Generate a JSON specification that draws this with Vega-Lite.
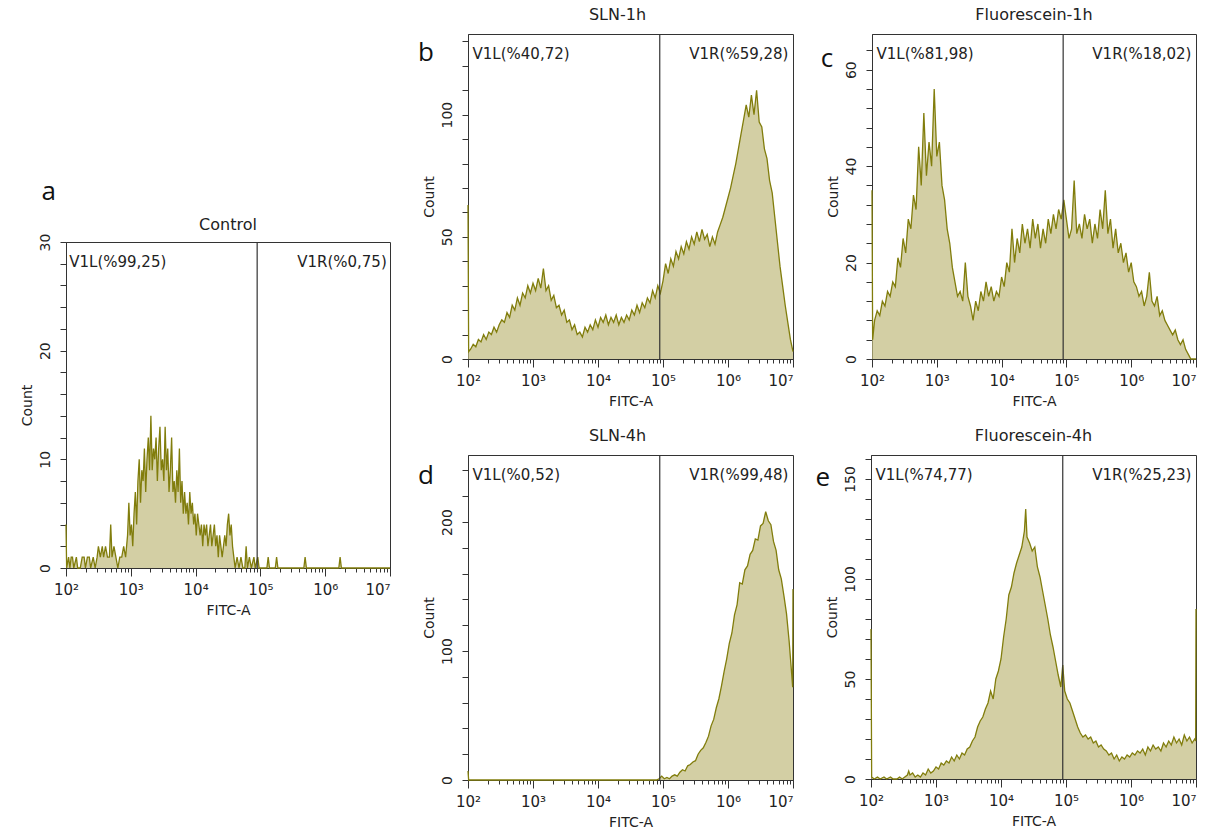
{
  "$schema": "https://vega.github.io/schema/vega-lite/v6.json",
  "padding": {"left": 19, "top": 6, "right": 0, "bottom": 0},
  "background": "white",
  "datasets": {
    "a": [{"fitc":2.00,"count":4},{"fitc":2.01,"count":0},{"fitc":2.04,"count":1},{"fitc":2.06,"count":0},{"fitc":2.08,"count":1},{"fitc":2.10,"count":1},{"fitc":2.12,"count":0},{"fitc":2.16,"count":1},{"fitc":2.18,"count":0},{"fitc":2.22,"count":0},{"fitc":2.25,"count":1},{"fitc":2.28,"count":1},{"fitc":2.30,"count":0},{"fitc":2.33,"count":1},{"fitc":2.36,"count":1},{"fitc":2.38,"count":0},{"fitc":2.42,"count":1},{"fitc":2.45,"count":0},{"fitc":2.48,"count":1},{"fitc":2.50,"count":2},{"fitc":2.53,"count":1},{"fitc":2.56,"count":2},{"fitc":2.58,"count":1},{"fitc":2.61,"count":2},{"fitc":2.64,"count":1},{"fitc":2.67,"count":1},{"fitc":2.69,"count":4},{"fitc":2.71,"count":1},{"fitc":2.74,"count":2},{"fitc":2.77,"count":1},{"fitc":2.80,"count":0},{"fitc":2.83,"count":1},{"fitc":2.86,"count":1},{"fitc":2.89,"count":2},{"fitc":2.92,"count":1},{"fitc":2.95,"count":3},{"fitc":2.97,"count":6},{"fitc":2.99,"count":3},{"fitc":3.01,"count":4},{"fitc":3.03,"count":2},{"fitc":3.05,"count":5},{"fitc":3.07,"count":7},{"fitc":3.09,"count":4},{"fitc":3.11,"count":8},{"fitc":3.13,"count":10},{"fitc":3.15,"count":6},{"fitc":3.17,"count":9},{"fitc":3.19,"count":8},{"fitc":3.21,"count":11},{"fitc":3.23,"count":7},{"fitc":3.25,"count":10},{"fitc":3.27,"count":12},{"fitc":3.29,"count":9},{"fitc":3.31,"count":14},{"fitc":3.33,"count":9},{"fitc":3.35,"count":11},{"fitc":3.37,"count":10},{"fitc":3.39,"count":12},{"fitc":3.41,"count":8},{"fitc":3.43,"count":11},{"fitc":3.45,"count":13},{"fitc":3.47,"count":9},{"fitc":3.49,"count":10},{"fitc":3.51,"count":8},{"fitc":3.53,"count":13},{"fitc":3.55,"count":9},{"fitc":3.57,"count":11},{"fitc":3.59,"count":7},{"fitc":3.61,"count":9},{"fitc":3.63,"count":12},{"fitc":3.65,"count":7},{"fitc":3.67,"count":8},{"fitc":3.69,"count":6},{"fitc":3.71,"count":9},{"fitc":3.73,"count":7},{"fitc":3.75,"count":11},{"fitc":3.77,"count":6},{"fitc":3.79,"count":8},{"fitc":3.81,"count":5},{"fitc":3.83,"count":7},{"fitc":3.85,"count":5},{"fitc":3.87,"count":6},{"fitc":3.89,"count":4},{"fitc":3.91,"count":7},{"fitc":3.93,"count":5},{"fitc":3.95,"count":6},{"fitc":3.97,"count":4},{"fitc":3.99,"count":5},{"fitc":4.01,"count":3},{"fitc":4.03,"count":5},{"fitc":4.05,"count":4},{"fitc":4.07,"count":3},{"fitc":4.09,"count":4},{"fitc":4.11,"count":2},{"fitc":4.13,"count":4},{"fitc":4.15,"count":3},{"fitc":4.17,"count":4},{"fitc":4.19,"count":2},{"fitc":4.21,"count":3},{"fitc":4.23,"count":4},{"fitc":4.25,"count":2},{"fitc":4.27,"count":3},{"fitc":4.29,"count":4},{"fitc":4.31,"count":2},{"fitc":4.33,"count":3},{"fitc":4.35,"count":1},{"fitc":4.37,"count":3},{"fitc":4.39,"count":2},{"fitc":4.41,"count":1},{"fitc":4.43,"count":2},{"fitc":4.45,"count":3},{"fitc":4.47,"count":2},{"fitc":4.49,"count":4},{"fitc":4.51,"count":5},{"fitc":4.53,"count":3},{"fitc":4.55,"count":4},{"fitc":4.57,"count":2},{"fitc":4.59,"count":1},{"fitc":4.61,"count":0},{"fitc":4.64,"count":1},{"fitc":4.67,"count":0},{"fitc":4.70,"count":1},{"fitc":4.73,"count":0},{"fitc":4.76,"count":0},{"fitc":4.78,"count":2},{"fitc":4.80,"count":0},{"fitc":4.83,"count":1},{"fitc":4.86,"count":0},{"fitc":4.90,"count":1},{"fitc":4.92,"count":0},{"fitc":4.96,"count":1},{"fitc":4.98,"count":0},{"fitc":5.10,"count":0},{"fitc":5.12,"count":1},{"fitc":5.14,"count":0},{"fitc":5.23,"count":0},{"fitc":5.25,"count":1},{"fitc":5.27,"count":0},{"fitc":5.67,"count":0},{"fitc":5.69,"count":1},{"fitc":5.71,"count":0},{"fitc":6.21,"count":0},{"fitc":6.23,"count":1},{"fitc":6.25,"count":0},{"fitc":7.00,"count":0}],
    "b": [{"fitc":2.00,"count":63},{"fitc":2.01,"count":3},{"fitc":2.04,"count":4},{"fitc":2.08,"count":6},{"fitc":2.12,"count":5},{"fitc":2.16,"count":8},{"fitc":2.20,"count":7},{"fitc":2.24,"count":10},{"fitc":2.28,"count":8},{"fitc":2.32,"count":11},{"fitc":2.36,"count":10},{"fitc":2.40,"count":13},{"fitc":2.44,"count":11},{"fitc":2.48,"count":14},{"fitc":2.52,"count":16},{"fitc":2.56,"count":15},{"fitc":2.60,"count":19},{"fitc":2.64,"count":17},{"fitc":2.68,"count":22},{"fitc":2.72,"count":20},{"fitc":2.76,"count":25},{"fitc":2.80,"count":22},{"fitc":2.84,"count":27},{"fitc":2.88,"count":25},{"fitc":2.92,"count":30},{"fitc":2.96,"count":27},{"fitc":3.00,"count":31},{"fitc":3.04,"count":28},{"fitc":3.08,"count":33},{"fitc":3.12,"count":29},{"fitc":3.16,"count":37},{"fitc":3.20,"count":28},{"fitc":3.24,"count":30},{"fitc":3.28,"count":24},{"fitc":3.32,"count":26},{"fitc":3.36,"count":21},{"fitc":3.40,"count":22},{"fitc":3.44,"count":18},{"fitc":3.48,"count":20},{"fitc":3.52,"count":15},{"fitc":3.56,"count":16},{"fitc":3.60,"count":12},{"fitc":3.64,"count":14},{"fitc":3.68,"count":10},{"fitc":3.72,"count":11},{"fitc":3.76,"count":9},{"fitc":3.80,"count":13},{"fitc":3.84,"count":11},{"fitc":3.88,"count":14},{"fitc":3.92,"count":12},{"fitc":3.96,"count":16},{"fitc":4.00,"count":13},{"fitc":4.04,"count":17},{"fitc":4.08,"count":15},{"fitc":4.12,"count":18},{"fitc":4.16,"count":14},{"fitc":4.20,"count":17},{"fitc":4.24,"count":15},{"fitc":4.28,"count":18},{"fitc":4.32,"count":14},{"fitc":4.36,"count":17},{"fitc":4.40,"count":15},{"fitc":4.44,"count":18},{"fitc":4.48,"count":16},{"fitc":4.52,"count":20},{"fitc":4.56,"count":18},{"fitc":4.60,"count":22},{"fitc":4.64,"count":19},{"fitc":4.68,"count":23},{"fitc":4.72,"count":21},{"fitc":4.76,"count":25},{"fitc":4.80,"count":23},{"fitc":4.84,"count":28},{"fitc":4.88,"count":25},{"fitc":4.92,"count":30},{"fitc":4.96,"count":27},{"fitc":5.00,"count":32},{"fitc":5.04,"count":39},{"fitc":5.08,"count":35},{"fitc":5.12,"count":41},{"fitc":5.16,"count":38},{"fitc":5.20,"count":44},{"fitc":5.24,"count":41},{"fitc":5.28,"count":46},{"fitc":5.32,"count":43},{"fitc":5.36,"count":48},{"fitc":5.40,"count":45},{"fitc":5.44,"count":50},{"fitc":5.48,"count":47},{"fitc":5.52,"count":52},{"fitc":5.56,"count":48},{"fitc":5.60,"count":53},{"fitc":5.64,"count":49},{"fitc":5.68,"count":51},{"fitc":5.72,"count":46},{"fitc":5.76,"count":50},{"fitc":5.80,"count":47},{"fitc":5.84,"count":52},{"fitc":5.88,"count":55},{"fitc":5.92,"count":58},{"fitc":5.96,"count":62},{"fitc":6.00,"count":66},{"fitc":6.04,"count":70},{"fitc":6.08,"count":75},{"fitc":6.12,"count":80},{"fitc":6.16,"count":86},{"fitc":6.20,"count":92},{"fitc":6.24,"count":98},{"fitc":6.28,"count":104},{"fitc":6.32,"count":99},{"fitc":6.36,"count":108},{"fitc":6.40,"count":100},{"fitc":6.44,"count":110},{"fitc":6.48,"count":97},{"fitc":6.52,"count":95},{"fitc":6.56,"count":86},{"fitc":6.60,"count":82},{"fitc":6.64,"count":73},{"fitc":6.68,"count":68},{"fitc":6.72,"count":58},{"fitc":6.76,"count":48},{"fitc":6.80,"count":38},{"fitc":6.84,"count":30},{"fitc":6.88,"count":22},{"fitc":6.92,"count":15},{"fitc":6.96,"count":8},{"fitc":7.00,"count":3}],
    "c": [{"fitc":2.00,"count":35},{"fitc":2.01,"count":4},{"fitc":2.04,"count":8},{"fitc":2.08,"count":10},{"fitc":2.12,"count":9},{"fitc":2.16,"count":12},{"fitc":2.20,"count":11},{"fitc":2.24,"count":14},{"fitc":2.28,"count":13},{"fitc":2.32,"count":16},{"fitc":2.36,"count":15},{"fitc":2.40,"count":21},{"fitc":2.44,"count":19},{"fitc":2.48,"count":25},{"fitc":2.52,"count":22},{"fitc":2.56,"count":29},{"fitc":2.60,"count":27},{"fitc":2.64,"count":34},{"fitc":2.68,"count":31},{"fitc":2.72,"count":44},{"fitc":2.76,"count":36},{"fitc":2.80,"count":51},{"fitc":2.84,"count":38},{"fitc":2.88,"count":45},{"fitc":2.92,"count":40},{"fitc":2.96,"count":56},{"fitc":3.00,"count":42},{"fitc":3.04,"count":45},{"fitc":3.08,"count":36},{"fitc":3.12,"count":33},{"fitc":3.16,"count":27},{"fitc":3.20,"count":24},{"fitc":3.24,"count":19},{"fitc":3.28,"count":16},{"fitc":3.32,"count":13},{"fitc":3.36,"count":14},{"fitc":3.40,"count":12},{"fitc":3.44,"count":20},{"fitc":3.48,"count":13},{"fitc":3.52,"count":11},{"fitc":3.56,"count":8},{"fitc":3.60,"count":12},{"fitc":3.64,"count":10},{"fitc":3.68,"count":14},{"fitc":3.72,"count":12},{"fitc":3.76,"count":16},{"fitc":3.80,"count":13},{"fitc":3.84,"count":15},{"fitc":3.88,"count":12},{"fitc":3.92,"count":14},{"fitc":3.96,"count":13},{"fitc":4.00,"count":17},{"fitc":4.04,"count":15},{"fitc":4.08,"count":20},{"fitc":4.12,"count":18},{"fitc":4.16,"count":27},{"fitc":4.20,"count":20},{"fitc":4.24,"count":25},{"fitc":4.28,"count":22},{"fitc":4.32,"count":28},{"fitc":4.36,"count":24},{"fitc":4.40,"count":27},{"fitc":4.44,"count":23},{"fitc":4.48,"count":29},{"fitc":4.52,"count":25},{"fitc":4.56,"count":28},{"fitc":4.60,"count":23},{"fitc":4.64,"count":27},{"fitc":4.68,"count":24},{"fitc":4.72,"count":29},{"fitc":4.76,"count":26},{"fitc":4.80,"count":30},{"fitc":4.84,"count":27},{"fitc":4.88,"count":31},{"fitc":4.92,"count":29},{"fitc":4.96,"count":33},{"fitc":5.00,"count":29},{"fitc":5.04,"count":25},{"fitc":5.08,"count":27},{"fitc":5.12,"count":37},{"fitc":5.16,"count":26},{"fitc":5.20,"count":28},{"fitc":5.24,"count":25},{"fitc":5.28,"count":30},{"fitc":5.32,"count":27},{"fitc":5.36,"count":29},{"fitc":5.40,"count":24},{"fitc":5.44,"count":28},{"fitc":5.48,"count":25},{"fitc":5.52,"count":31},{"fitc":5.56,"count":27},{"fitc":5.60,"count":35},{"fitc":5.64,"count":26},{"fitc":5.68,"count":29},{"fitc":5.72,"count":23},{"fitc":5.76,"count":27},{"fitc":5.80,"count":22},{"fitc":5.84,"count":24},{"fitc":5.88,"count":20},{"fitc":5.92,"count":22},{"fitc":5.96,"count":18},{"fitc":6.00,"count":20},{"fitc":6.04,"count":16},{"fitc":6.08,"count":15},{"fitc":6.12,"count":13},{"fitc":6.16,"count":14},{"fitc":6.20,"count":11},{"fitc":6.24,"count":13},{"fitc":6.28,"count":18},{"fitc":6.32,"count":12},{"fitc":6.36,"count":11},{"fitc":6.40,"count":13},{"fitc":6.44,"count":9},{"fitc":6.48,"count":10},{"fitc":6.52,"count":8},{"fitc":6.56,"count":7},{"fitc":6.60,"count":6},{"fitc":6.64,"count":5},{"fitc":6.68,"count":6},{"fitc":6.72,"count":4},{"fitc":6.76,"count":3},{"fitc":6.80,"count":4},{"fitc":6.84,"count":2},{"fitc":6.88,"count":1},{"fitc":6.92,"count":0},{"fitc":7.00,"count":0}],
    "d": [{"fitc":2.00,"count":7},{"fitc":2.01,"count":0},{"fitc":4.90,"count":0},{"fitc":4.94,"count":1},{"fitc":4.98,"count":3},{"fitc":5.02,"count":1},{"fitc":5.06,"count":2},{"fitc":5.10,"count":1},{"fitc":5.14,"count":3},{"fitc":5.18,"count":4},{"fitc":5.22,"count":3},{"fitc":5.26,"count":6},{"fitc":5.30,"count":8},{"fitc":5.34,"count":7},{"fitc":5.38,"count":11},{"fitc":5.42,"count":12},{"fitc":5.46,"count":14},{"fitc":5.50,"count":15},{"fitc":5.54,"count":20},{"fitc":5.58,"count":23},{"fitc":5.62,"count":25},{"fitc":5.66,"count":29},{"fitc":5.70,"count":34},{"fitc":5.74,"count":42},{"fitc":5.78,"count":47},{"fitc":5.82,"count":56},{"fitc":5.86,"count":63},{"fitc":5.90,"count":73},{"fitc":5.94,"count":84},{"fitc":5.98,"count":94},{"fitc":6.02,"count":106},{"fitc":6.06,"count":114},{"fitc":6.10,"count":128},{"fitc":6.14,"count":136},{"fitc":6.18,"count":153},{"fitc":6.22,"count":152},{"fitc":6.26,"count":163},{"fitc":6.30,"count":166},{"fitc":6.34,"count":175},{"fitc":6.38,"count":178},{"fitc":6.42,"count":187},{"fitc":6.46,"count":186},{"fitc":6.50,"count":197},{"fitc":6.54,"count":199},{"fitc":6.58,"count":208},{"fitc":6.62,"count":201},{"fitc":6.66,"count":198},{"fitc":6.70,"count":185},{"fitc":6.74,"count":178},{"fitc":6.78,"count":163},{"fitc":6.82,"count":156},{"fitc":6.86,"count":143},{"fitc":6.90,"count":129},{"fitc":6.94,"count":108},{"fitc":6.98,"count":82},{"fitc":6.995,"count":72},{"fitc":7.00,"count":148}],
    "e": [{"fitc":2.00,"count":75},{"fitc":2.01,"count":1},{"fitc":2.05,"count":0},{"fitc":2.10,"count":1},{"fitc":2.14,"count":0},{"fitc":2.20,"count":1},{"fitc":2.24,"count":0},{"fitc":2.30,"count":1},{"fitc":2.34,"count":0},{"fitc":2.40,"count":0},{"fitc":2.44,"count":1},{"fitc":2.48,"count":0},{"fitc":2.52,"count":1},{"fitc":2.56,"count":2},{"fitc":2.58,"count":4},{"fitc":2.60,"count":2},{"fitc":2.64,"count":3},{"fitc":2.68,"count":1},{"fitc":2.72,"count":2},{"fitc":2.76,"count":1},{"fitc":2.80,"count":3},{"fitc":2.84,"count":2},{"fitc":2.88,"count":5},{"fitc":2.92,"count":3},{"fitc":2.96,"count":4},{"fitc":3.00,"count":6},{"fitc":3.04,"count":5},{"fitc":3.08,"count":8},{"fitc":3.12,"count":7},{"fitc":3.16,"count":9},{"fitc":3.20,"count":8},{"fitc":3.24,"count":11},{"fitc":3.28,"count":9},{"fitc":3.32,"count":12},{"fitc":3.36,"count":10},{"fitc":3.40,"count":13},{"fitc":3.44,"count":12},{"fitc":3.48,"count":15},{"fitc":3.52,"count":16},{"fitc":3.56,"count":19},{"fitc":3.60,"count":21},{"fitc":3.64,"count":26},{"fitc":3.68,"count":29},{"fitc":3.72,"count":31},{"fitc":3.76,"count":35},{"fitc":3.80,"count":38},{"fitc":3.84,"count":44},{"fitc":3.88,"count":40},{"fitc":3.92,"count":50},{"fitc":3.96,"count":54},{"fitc":4.00,"count":60},{"fitc":4.04,"count":71},{"fitc":4.08,"count":80},{"fitc":4.12,"count":92},{"fitc":4.16,"count":96},{"fitc":4.20,"count":103},{"fitc":4.24,"count":108},{"fitc":4.28,"count":112},{"fitc":4.32,"count":116},{"fitc":4.36,"count":124},{"fitc":4.38,"count":135},{"fitc":4.40,"count":121},{"fitc":4.44,"count":118},{"fitc":4.48,"count":114},{"fitc":4.52,"count":116},{"fitc":4.56,"count":106},{"fitc":4.60,"count":101},{"fitc":4.64,"count":94},{"fitc":4.68,"count":87},{"fitc":4.72,"count":80},{"fitc":4.76,"count":72},{"fitc":4.80,"count":66},{"fitc":4.84,"count":59},{"fitc":4.88,"count":52},{"fitc":4.92,"count":46},{"fitc":4.95,"count":57},{"fitc":4.98,"count":44},{"fitc":5.02,"count":40},{"fitc":5.06,"count":38},{"fitc":5.10,"count":34},{"fitc":5.14,"count":30},{"fitc":5.18,"count":26},{"fitc":5.22,"count":23},{"fitc":5.26,"count":21},{"fitc":5.30,"count":22},{"fitc":5.34,"count":20},{"fitc":5.38,"count":21},{"fitc":5.42,"count":18},{"fitc":5.46,"count":19},{"fitc":5.50,"count":16},{"fitc":5.54,"count":17},{"fitc":5.58,"count":15},{"fitc":5.62,"count":14},{"fitc":5.66,"count":12},{"fitc":5.70,"count":13},{"fitc":5.74,"count":10},{"fitc":5.78,"count":12},{"fitc":5.82,"count":9},{"fitc":5.86,"count":11},{"fitc":5.90,"count":10},{"fitc":5.94,"count":12},{"fitc":5.98,"count":11},{"fitc":6.02,"count":13},{"fitc":6.06,"count":12},{"fitc":6.10,"count":14},{"fitc":6.14,"count":13},{"fitc":6.18,"count":15},{"fitc":6.22,"count":12},{"fitc":6.26,"count":16},{"fitc":6.30,"count":14},{"fitc":6.34,"count":17},{"fitc":6.38,"count":15},{"fitc":6.42,"count":16},{"fitc":6.46,"count":14},{"fitc":6.50,"count":18},{"fitc":6.54,"count":16},{"fitc":6.58,"count":19},{"fitc":6.62,"count":17},{"fitc":6.66,"count":21},{"fitc":6.70,"count":18},{"fitc":6.74,"count":20},{"fitc":6.78,"count":17},{"fitc":6.82,"count":22},{"fitc":6.86,"count":19},{"fitc":6.90,"count":21},{"fitc":6.94,"count":18},{"fitc":6.98,"count":20},{"fitc":6.995,"count":19},{"fitc":7.00,"count":85}]
  },
  "spacing": 23,
  "hconcat": [
    {
      "spacing": 0,
      "vconcat": [
        {"width": 10, "height": 144, "data": {"values": [{}]}, "mark": {"type": "point", "opacity": 0}, "view": {"stroke": null}},
        {
          "width": 324, "height": 326,
          "title": {"text": "Control", "dy": 64},
          "resolve": {"axis": {"x": "independent", "y": "independent"}},
          "layer": [
            {"data": {"name": "a"}, "mark": {"type": "area", "color": "#C0BB7E", "line": {"color": "#817D0C", "strokeWidth": 1.3}},
             "encoding": {
               "x": {"field": "fitc", "type": "quantitative", "scale": {"domain": [2, 7], "nice": false, "zero": false},
                     "axis": {"title": "FITC-A", "values": [2,2.30103,2.47712,2.60206,2.69897,2.77815,2.8451,2.90309,2.95424,3,3.30103,3.47712,3.60206,3.69897,3.77815,3.8451,3.90309,3.95424,4,4.30103,4.47712,4.60206,4.69897,4.77815,4.8451,4.90309,4.95424,5,5.30103,5.47712,5.60206,5.69897,5.77815,5.8451,5.90309,5.95424,6,6.30103,6.47712,6.60206,6.69897,6.77815,6.8451,6.90309,6.95424,7],
                              "labelAlign": {"condition": {"test": "datum.value == 7", "value": "right"}, "value": "center"},
                              "labelExpr": "datum.value == 2 ? '10²' : datum.value == 3 ? '10³' : datum.value == 4 ? '10⁴' : datum.value == 5 ? '10⁵' : datum.value == 6 ? '10⁶' : datum.value == 7 ? '10⁷' : ''"}},
               "y": {"field": "count", "type": "quantitative", "scale": {"domain": [0, 30], "nice": false},
                     "axis": {"title": "Count", "values": [0,2,4,6,8,10,12,14,16,18,20,22,24,26,28,30], "labelExpr": "datum.value % 10 == 0 ? datum.label : ''"}}
             }},
            {"data": {"values": [{"gate": "V1"}]}, "mark": {"type": "rule", "color": "#333", "strokeWidth": 1.2}, "encoding": {"x": {"datum": 4.95, "axis": {"orient": "bottom", "values": [2,3,4,5,6,7], "tickSize": 8, "labels": false, "domain": false, "title": null}}}},
            {"data": {"values": [{"label": "V1L(%99,25)"}]}, "mark": {"type": "text", "align": "left", "baseline": "middle", "fontSize": 15, "color": "#222"}, "encoding": {"x": {"datum": 2.05, "axis": null}, "y": {"datum": 28.2, "axis": null}, "text": {"field": "label"}}},
            {"data": {"values": [{"label": "V1R(%0,75)"}]}, "mark": {"type": "text", "align": "right", "baseline": "middle", "fontSize": 15, "color": "#222"}, "encoding": {"x": {"datum": 6.95, "axis": null}, "y": {"datum": 28.2, "axis": null}, "text": {"field": "label"}}},
            {"data": {"values": [{"panel": "a"}]}, "mark": {"type": "text", "align": "center", "baseline": "alphabetic", "fontSize": 26, "font": "Open Sans", "color": "#111"}, "encoding": {"x": {"datum": 1.735, "axis": null}, "y": {"datum": 33.85, "axis": null}, "text": {"field": "panel"}}}
          ]
        }
      ]
    },
    {
      "spacing": 18,
      "vconcat": [
        {
          "spacing": 23,
          "hconcat": [
            {
              "width": 325, "height": 325,
              "title": {"text": "SLN-1h", "dx": -13},
              "resolve": {"axis": {"x": "independent", "y": "independent"}},
              "layer": [
                {"data": {"name": "b"}, "mark": {"type": "area", "color": "#C0BB7E", "line": {"color": "#817D0C", "strokeWidth": 1.3}},
                 "encoding": {
                   "x": {"field": "fitc", "type": "quantitative", "scale": {"domain": [2, 7], "nice": false, "zero": false},
                         "axis": {"title": "FITC-A", "values": [2,2.30103,2.47712,2.60206,2.69897,2.77815,2.8451,2.90309,2.95424,3,3.30103,3.47712,3.60206,3.69897,3.77815,3.8451,3.90309,3.95424,4,4.30103,4.47712,4.60206,4.69897,4.77815,4.8451,4.90309,4.95424,5,5.30103,5.47712,5.60206,5.69897,5.77815,5.8451,5.90309,5.95424,6,6.30103,6.47712,6.60206,6.69897,6.77815,6.8451,6.90309,6.95424,7],
                                  "labelAlign": {"condition": {"test": "datum.value == 7", "value": "right"}, "value": "center"},
                                  "labelExpr": "datum.value == 2 ? '10²' : datum.value == 3 ? '10³' : datum.value == 4 ? '10⁴' : datum.value == 5 ? '10⁵' : datum.value == 6 ? '10⁶' : datum.value == 7 ? '10⁷' : ''"}},
                   "y": {"field": "count", "type": "quantitative", "scale": {"domain": [0, 133], "nice": false},
                         "axis": {"title": "Count", "values": [0,10,20,30,40,50,60,70,80,90,100,110,120,130], "labelExpr": "datum.value % 50 == 0 ? datum.label : ''"}}
                 }},
                {"data": {"values": [{"gate": "V1"}]}, "mark": {"type": "rule", "color": "#333", "strokeWidth": 1.2}, "encoding": {"x": {"datum": 4.95, "axis": {"orient": "bottom", "values": [2,3,4,5,6,7], "tickSize": 8, "labels": false, "domain": false, "title": null}}}},
                {"data": {"values": [{"label": "V1L(%40,72)"}]}, "mark": {"type": "text", "align": "left", "baseline": "middle", "fontSize": 15, "color": "#222"}, "encoding": {"x": {"datum": 2.07, "axis": null}, "y": {"datum": 124.8, "axis": null}, "text": {"field": "label"}}},
                {"data": {"values": [{"label": "V1R(%59,28)"}]}, "mark": {"type": "text", "align": "right", "baseline": "middle", "fontSize": 15, "color": "#222"}, "encoding": {"x": {"datum": 6.93, "axis": null}, "y": {"datum": 124.8, "axis": null}, "text": {"field": "label"}}},
                {"data": {"values": [{"panel": "b"}]}, "mark": {"type": "text", "align": "center", "baseline": "alphabetic", "fontSize": 26, "font": "Open Sans", "color": "#111"}, "encoding": {"x": {"datum": 1.354, "axis": null}, "y": {"datum": 122.1, "axis": null}, "text": {"field": "panel"}}}
              ]
            },
            {
              "width": 324, "height": 325,
              "title": {"text": "Fluorescein-1h"},
              "resolve": {"axis": {"x": "independent", "y": "independent"}},
              "layer": [
                {"data": {"name": "c"}, "mark": {"type": "area", "color": "#C0BB7E", "line": {"color": "#817D0C", "strokeWidth": 1.3}},
                 "encoding": {
                   "x": {"field": "fitc", "type": "quantitative", "scale": {"domain": [2, 7], "nice": false, "zero": false},
                         "axis": {"title": "FITC-A", "values": [2,2.30103,2.47712,2.60206,2.69897,2.77815,2.8451,2.90309,2.95424,3,3.30103,3.47712,3.60206,3.69897,3.77815,3.8451,3.90309,3.95424,4,4.30103,4.47712,4.60206,4.69897,4.77815,4.8451,4.90309,4.95424,5,5.30103,5.47712,5.60206,5.69897,5.77815,5.8451,5.90309,5.95424,6,6.30103,6.47712,6.60206,6.69897,6.77815,6.8451,6.90309,6.95424,7],
                                  "labelAlign": {"condition": {"test": "datum.value == 7", "value": "right"}, "value": "center"},
                                  "labelExpr": "datum.value == 2 ? '10²' : datum.value == 3 ? '10³' : datum.value == 4 ? '10⁴' : datum.value == 5 ? '10⁵' : datum.value == 6 ? '10⁶' : datum.value == 7 ? '10⁷' : ''"}},
                   "y": {"field": "count", "type": "quantitative", "scale": {"domain": [0, 67.4], "nice": false},
                         "axis": {"title": "Count", "values": [0,4,8,12,16,20,24,28,32,36,40,44,48,52,56,60,64], "labelExpr": "datum.value % 20 == 0 ? datum.label : ''"}}
                 }},
                {"data": {"values": [{"gate": "V1"}]}, "mark": {"type": "rule", "color": "#333", "strokeWidth": 1.2}, "encoding": {"x": {"datum": 4.95, "axis": {"orient": "bottom", "values": [2,3,4,5,6,7], "tickSize": 8, "labels": false, "domain": false, "title": null}}}},
                {"data": {"values": [{"label": "V1L(%81,98)"}]}, "mark": {"type": "text", "align": "left", "baseline": "middle", "fontSize": 15, "color": "#222"}, "encoding": {"x": {"datum": 2.07, "axis": null}, "y": {"datum": 63.25, "axis": null}, "text": {"field": "label"}}},
                {"data": {"values": [{"label": "V1R(%18,02)"}]}, "mark": {"type": "text", "align": "right", "baseline": "middle", "fontSize": 15, "color": "#222"}, "encoding": {"x": {"datum": 6.93, "axis": null}, "y": {"datum": 63.25, "axis": null}, "text": {"field": "label"}}},
                {"data": {"values": [{"panel": "c"}]}, "mark": {"type": "text", "align": "center", "baseline": "alphabetic", "fontSize": 26, "font": "Open Sans", "color": "#111"}, "encoding": {"x": {"datum": 1.306, "axis": null}, "y": {"datum": 60.5, "axis": null}, "text": {"field": "panel"}}}
              ]
            }
          ]
        },
        {
          "spacing": 18,
          "hconcat": [
            {
              "width": 325, "height": 325,
              "title": {"text": "SLN-4h", "dx": -13},
              "resolve": {"axis": {"x": "independent", "y": "independent"}},
              "layer": [
                {"data": {"name": "d"}, "mark": {"type": "area", "color": "#C0BB7E", "line": {"color": "#817D0C", "strokeWidth": 1.3}},
                 "encoding": {
                   "x": {"field": "fitc", "type": "quantitative", "scale": {"domain": [2, 7], "nice": false, "zero": false},
                         "axis": {"title": "FITC-A", "values": [2,2.30103,2.47712,2.60206,2.69897,2.77815,2.8451,2.90309,2.95424,3,3.30103,3.47712,3.60206,3.69897,3.77815,3.8451,3.90309,3.95424,4,4.30103,4.47712,4.60206,4.69897,4.77815,4.8451,4.90309,4.95424,5,5.30103,5.47712,5.60206,5.69897,5.77815,5.8451,5.90309,5.95424,6,6.30103,6.47712,6.60206,6.69897,6.77815,6.8451,6.90309,6.95424,7],
                                  "labelAlign": {"condition": {"test": "datum.value == 7", "value": "right"}, "value": "center"},
                                  "labelExpr": "datum.value == 2 ? '10²' : datum.value == 3 ? '10³' : datum.value == 4 ? '10⁴' : datum.value == 5 ? '10⁵' : datum.value == 6 ? '10⁶' : datum.value == 7 ? '10⁷' : ''"}},
                   "y": {"field": "count", "type": "quantitative", "scale": {"domain": [0, 252], "nice": false},
                         "axis": {"title": "Count", "values": [0,20,40,60,80,100,120,140,160,180,200,220,240], "labelExpr": "datum.value % 100 == 0 ? datum.label : ''"}}
                 }},
                {"data": {"values": [{"gate": "V1"}]}, "mark": {"type": "rule", "color": "#333", "strokeWidth": 1.2}, "encoding": {"x": {"datum": 4.95, "axis": {"orient": "bottom", "values": [2,3,4,5,6,7], "tickSize": 8, "labels": false, "domain": false, "title": null}}}},
                {"data": {"values": [{"label": "V1L(%0,52)"}]}, "mark": {"type": "text", "align": "left", "baseline": "middle", "fontSize": 15, "color": "#222"}, "encoding": {"x": {"datum": 2.07, "axis": null}, "y": {"datum": 236.5, "axis": null}, "text": {"field": "label"}}},
                {"data": {"values": [{"label": "V1R(%99,48)"}]}, "mark": {"type": "text", "align": "right", "baseline": "middle", "fontSize": 15, "color": "#222"}, "encoding": {"x": {"datum": 6.93, "axis": null}, "y": {"datum": 236.5, "axis": null}, "text": {"field": "label"}}},
                {"data": {"values": [{"panel": "d"}]}, "mark": {"type": "text", "align": "center", "baseline": "alphabetic", "fontSize": 26, "font": "Open Sans", "color": "#111"}, "encoding": {"x": {"datum": 1.354, "axis": null}, "y": {"datum": 229.5, "axis": null}, "text": {"field": "panel"}}}
              ]
            },
            {
              "width": 325, "height": 324,
              "title": {"text": "Fluorescein-4h"},
              "resolve": {"axis": {"x": "independent", "y": "independent"}},
              "layer": [
                {"data": {"name": "e"}, "mark": {"type": "area", "color": "#C0BB7E", "line": {"color": "#817D0C", "strokeWidth": 1.3}},
                 "encoding": {
                   "x": {"field": "fitc", "type": "quantitative", "scale": {"domain": [2, 7], "nice": false, "zero": false},
                         "axis": {"title": "FITC-A", "values": [2,2.30103,2.47712,2.60206,2.69897,2.77815,2.8451,2.90309,2.95424,3,3.30103,3.47712,3.60206,3.69897,3.77815,3.8451,3.90309,3.95424,4,4.30103,4.47712,4.60206,4.69897,4.77815,4.8451,4.90309,4.95424,5,5.30103,5.47712,5.60206,5.69897,5.77815,5.8451,5.90309,5.95424,6,6.30103,6.47712,6.60206,6.69897,6.77815,6.8451,6.90309,6.95424,7],
                                  "labelAlign": {"condition": {"test": "datum.value == 7", "value": "right"}, "value": "center"},
                                  "labelExpr": "datum.value == 2 ? '10²' : datum.value == 3 ? '10³' : datum.value == 4 ? '10⁴' : datum.value == 5 ? '10⁵' : datum.value == 6 ? '10⁶' : datum.value == 7 ? '10⁷' : ''"}},
                   "y": {"field": "count", "type": "quantitative", "scale": {"domain": [0, 162], "nice": false},
                         "axis": {"title": "Count", "values": [0,10,20,30,40,50,60,70,80,90,100,110,120,130,140,150,160], "labelExpr": "datum.value % 50 == 0 ? datum.label : ''"}}
                 }},
                {"data": {"values": [{"gate": "V1"}]}, "mark": {"type": "rule", "color": "#333", "strokeWidth": 1.2}, "encoding": {"x": {"datum": 4.95, "axis": {"orient": "bottom", "values": [2,3,4,5,6,7], "tickSize": 8, "labels": false, "domain": false, "title": null}}}},
                {"data": {"values": [{"label": "V1L(%74,77)"}]}, "mark": {"type": "text", "align": "left", "baseline": "middle", "fontSize": 15, "color": "#222"}, "encoding": {"x": {"datum": 2.07, "axis": null}, "y": {"datum": 152, "axis": null}, "text": {"field": "label"}}},
                {"data": {"values": [{"label": "V1R(%25,23)"}]}, "mark": {"type": "text", "align": "right", "baseline": "middle", "fontSize": 15, "color": "#222"}, "encoding": {"x": {"datum": 6.93, "axis": null}, "y": {"datum": 152, "axis": null}, "text": {"field": "label"}}},
                {"data": {"values": [{"panel": "e"}]}, "mark": {"type": "text", "align": "center", "baseline": "alphabetic", "fontSize": 26, "font": "Open Sans", "color": "#111"}, "encoding": {"x": {"datum": 1.26, "axis": null}, "y": {"datum": 146.5, "axis": null}, "text": {"field": "panel"}}}
              ]
            }
          ]
        }
      ]
    }
  ],
  "config": {
    "font": "DejaVu Sans",
    "view": {"stroke": "#333", "strokeWidth": 1},
    "text": {"font": "DejaVu Sans"},
    "title": {"font": "DejaVu Sans", "fontSize": 16, "fontWeight": "normal", "color": "#222", "offset": 10, "frame": "group", "anchor": "middle"},
    "axis": {"grid": false, "domainColor": "#333", "tickColor": "#333", "labelColor": "#222", "titleColor": "#222", "labelFont": "DejaVu Sans", "titleFont": "DejaVu Sans", "labelFontSize": 14, "titleFontSize": 14, "titleFontWeight": "normal", "labelOverlap": false},
    "axisX": {"tickSize": 4, "labelFlush": false, "labelPadding": 10, "titlePadding": 6, "labelFontSize": 15},
    "axisY": {"labelAngle": -90, "labelAlign": "center", "labelBaseline": "bottom", "labelPadding": 8, "tickSize": 6, "titlePadding": 4}
  }
}
